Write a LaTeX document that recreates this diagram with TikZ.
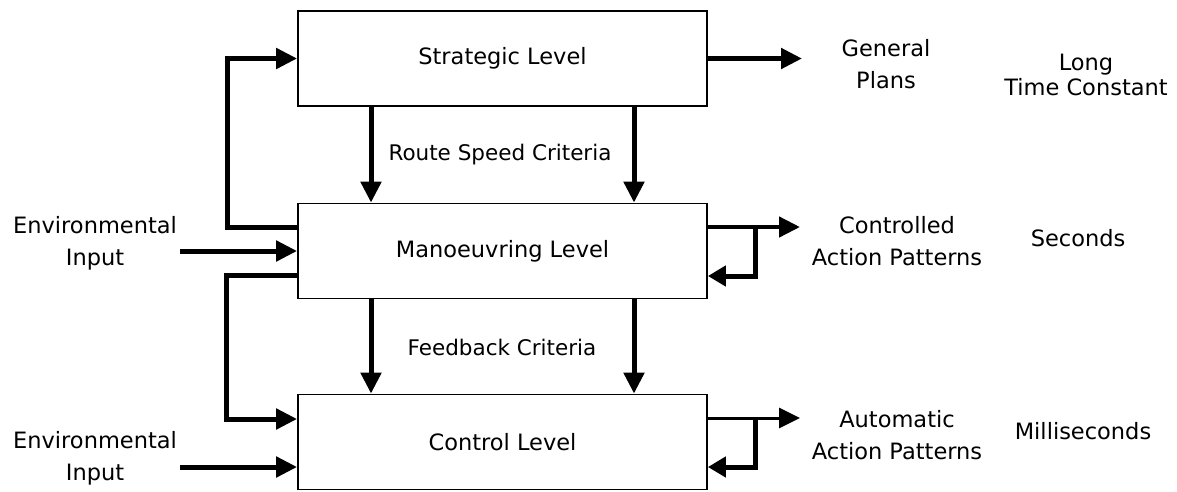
\documentclass[tikz,border=0pt]{standalone}
\usepackage{fontspec}
\setmainfont{DejaVu Sans}
\usetikzlibrary{arrows.meta}
\begin{document}
\begin{tikzpicture}[x=1pt,y=-1pt,
  box/.style={draw, line width=1.8pt, minimum width=409pt, minimum height=95pt, inner sep=0pt, font=\fontsize{22.5}{26}\selectfont},
  lbl/.style={align=center, inner sep=0pt, font=\fontsize{22.5}{32}\selectfont},
  crit/.style={inner sep=0pt, font=\fontsize{21.5}{26}\selectfont},
  thk/.style={line width=5pt, -{Triangle[length=21pt,width=20pt]}},
  outa/.style={line width=4.5pt, -{Triangle[length=21pt,width=20pt]}},
  outb/.style={line width=3pt, -{Triangle[length=21pt,width=20pt]}},
  back/.style={line width=5pt, -{Triangle[length=18pt,width=20pt]}}
]
\useasboundingbox (0,0) rectangle (1177,491);
% boxes
\node[box] (S) at (502.5,58.5) {Strategic Level};
\node[box] (M) at (502.5,251) {Manoeuvring Level};
\node[box] (C) at (502.5,442) {Control Level};
% labels
\node[crit] (RSC) at (500,155) {Route Speed Criteria};
\node[crit] (FC) at (502,347) {Feedback Criteria};
\node[lbl] (E1) at (95,243.5) {Environmental\\Input};
\node[lbl] (E2) at (95,458) {Environmental\\Input};
\node[lbl] (GP) at (886,64) {General\\Plans};
\node[lbl, font=\fontsize{22.5}{25}\selectfont] (LT) at (1086,75) {Long\\Time Constant};
\node[lbl] (CAP) at (897,241) {Controlled\\Action Patterns};
\node[lbl] (SEC) at (1078,238) {Seconds};
\node[lbl] (AAP) at (897,435) {Automatic\\Action Patterns};
\node[lbl] (MS) at (1083,431) {Milliseconds};
% coordinates
\coordinate (e1) at (180,251);
\coordinate (e2) at (180,467);
\coordinate (g) at (802,58.5);
\coordinate (co) at (800,227);
\coordinate (ao) at (800,418);
\coordinate (cb) at (755,227);
\coordinate (ab) at (755,418);
% down arrows
\draw[thk] ([xshift=-131.5pt]S.south) -- ([xshift=-131.5pt]M.north);
\draw[thk] ([xshift=131.5pt]S.south) -- ([xshift=131.5pt]M.north);
\draw[thk] ([xshift=-131.5pt]M.south) -- ([xshift=-131.5pt]C.north);
\draw[thk] ([xshift=131.5pt]M.south) -- ([xshift=131.5pt]C.north);
% left loops
\draw[thk] ([yshift=24pt]M.west) -- ++(-70pt,0) |- (S.west);
\draw[thk] ([yshift=-24pt]M.west) -- ++(-71pt,0) |- ([yshift=23pt]C.west);
% environmental inputs
\draw[thk] (e1) -- (M.west);
\draw[thk] (e2) -- ([yshift=-25pt]C.west);
% right outputs
\draw[thk] (S.east) -- (g);
\draw[outa] ([yshift=24pt]M.east) -- (co);
\draw[back] (cb) |- ([yshift=-25pt]M.east);
\draw[outb] ([yshift=24pt]C.east) -- (ao);
\draw[back] (ab) |- ([yshift=-25pt]C.east);
\end{tikzpicture}
\end{document}
